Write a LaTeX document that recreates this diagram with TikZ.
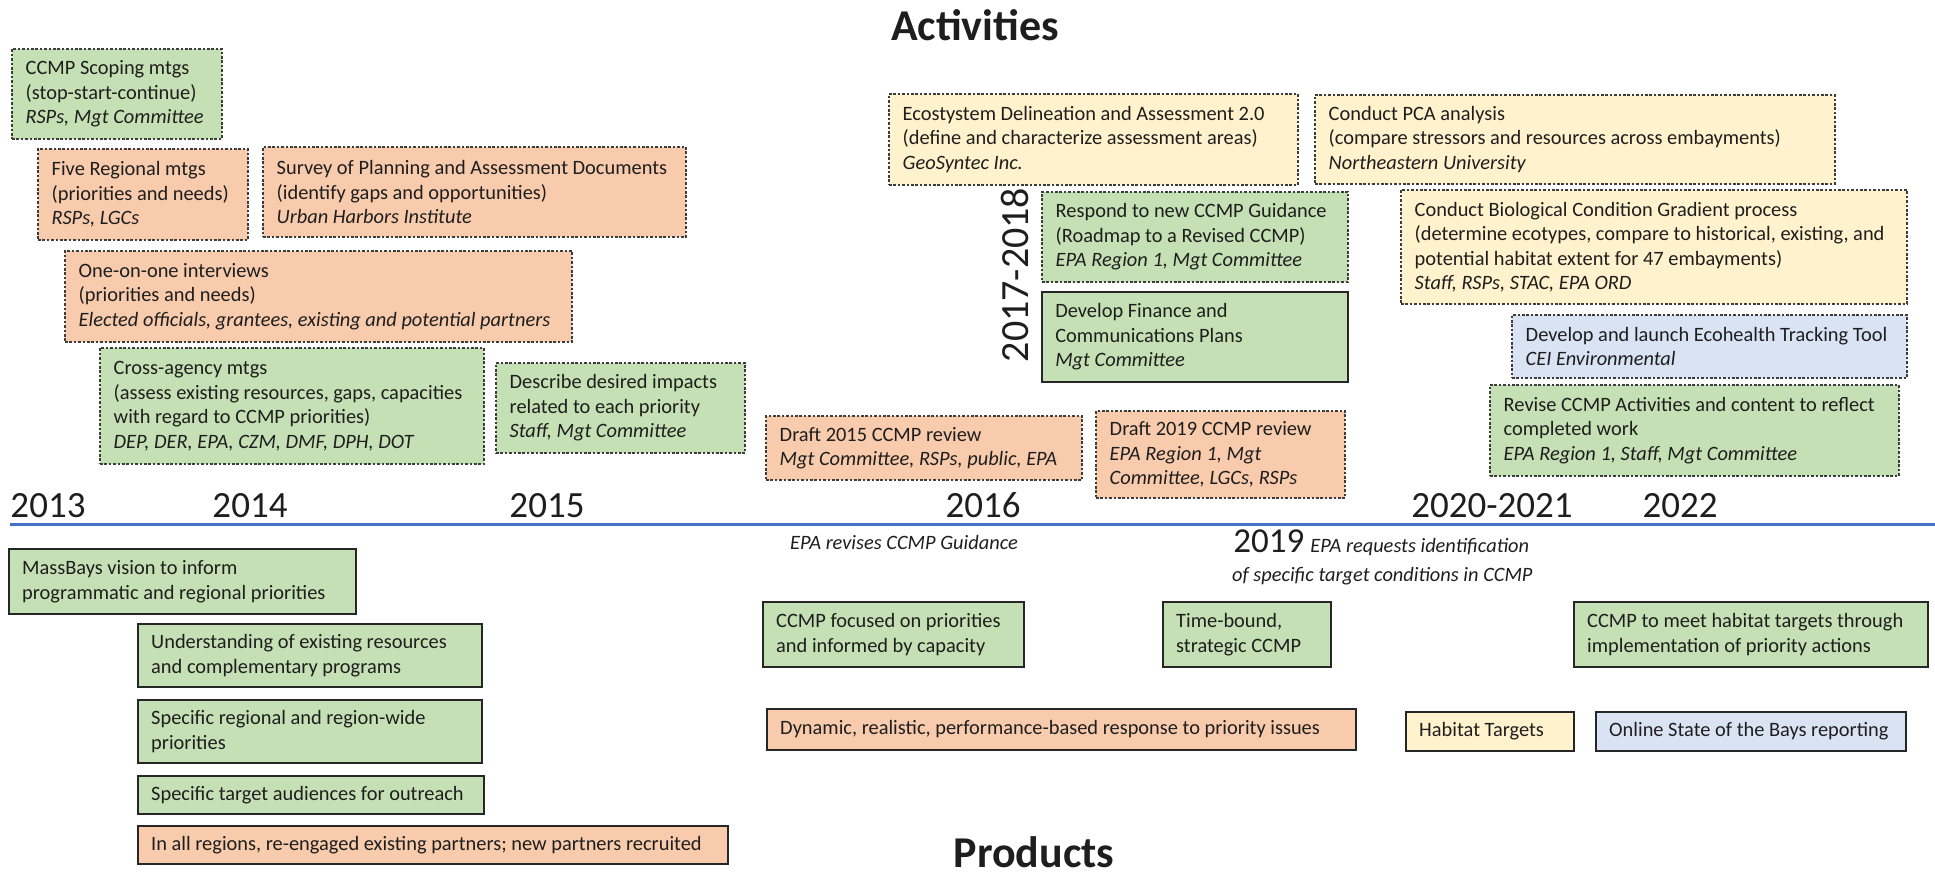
\documentclass[tikz,border=0pt]{standalone}
\usepackage{fontspec}
\setmainfont{Carlito}
\definecolor{ink}{HTML}{1E1E1E}
\definecolor{gfill}{HTML}{C5E0B4}
\definecolor{ofill}{HTML}{F8CBAD}
\definecolor{yfill}{HTML}{FFF2CC}
\definecolor{bfill}{HTML}{DAE3F3}
\definecolor{edge}{HTML}{3C3C3C}
\definecolor{axisblue}{HTML}{4472C4}
\newcommand\boxfont{\fontsize{10.2}{12.25}\selectfont}
\newcommand\yearfont{\fontsize{18.5}{22}\selectfont}
\newcommand\headfont{\fontsize{22}{26}\selectfont\bfseries}
% box given by its corners (x1,y1) (x2,y2) in pixel units,
% with its text set flush left inside it
\newcommand\tlbox[7]{%
  \pgfmathsetmacro\tlw{(#5-#3)*0.5}%
  \pgfmathsetmacro\tlh{(#6-#4)*0.5}%
  \node[#2, minimum width=\tlw pt, minimum height=\tlh pt, inner sep=0pt]
        (#1) at ({(#3+#5)/2},{(#4+#6)/2}) {};
  \node[anchor=west, align=left, inner sep=0pt] (#1-t) at ([xshift=7pt]#1.west) {#7};}
\begin{document}
\begin{tikzpicture}[x=0.5pt,y=-0.5pt,
  every node/.style={text=ink, font=\boxfont},
  act/.style={draw=edge, line width=0.7pt, dash pattern=on 1.3pt off 0.9pt},
  firm/.style={draw=black!85, line width=1.1pt},
  prod/.style={draw=black!85, line width=1.2pt},
  gbox/.style={fill=gfill},
  obox/.style={fill=ofill},
  ybox/.style={fill=yfill},
  bbox/.style={fill=bfill},
  year/.style={font=\yearfont, anchor=base},
  note/.style={font=\boxfont\itshape},
  head/.style={font=\headfont}]
\useasboundingbox (0,0) rectangle (1935,875);

% headings
\node[head] (acth) at (975,25) {Activities};
\node[head] (prodh) at (1034,852) {Products};

% timeline axis
\coordinate (ax0) at (10,524);
\coordinate (ax1) at (1935,524);
\draw[axisblue, line width=1.5pt] (ax0) -- (ax1);

% years
\node[year] (y13) at (48,517) {2013};
\node[year] (y14) at (250,517) {2014};
\node[year] (y15) at (547,517) {2015};
\node[year] (y16) at (983,517) {2016};
\node[year] (y2021) at (1492,517) {2020-2021};
\node[year] (y22) at (1680,517) {2022};
\node[font=\fontsize{20}{24}\selectfont, rotate=90] (y1718) at (1015,275) {2017-2018};

% events below the axis
\node[note] (epa16) at (904,542) {EPA revises CCMP Guidance};
\node[font=\fontsize{17.5}{20}\selectfont, anchor=base west, inner sep=0pt] (y19) at (1233,552) {2019};
\node[note, anchor=base west, inner sep=0pt] (epa19a) at (1310,552) {EPA requests identification};
\node[note, anchor=base east, inner sep=0pt] (epa19b) at (1533,581) {of specific target conditions in CCMP};

% activities
\tlbox{scope}{act,gbox}{12}{49}{222}{139}{CCMP Scoping mtgs\\(stop-start-continue)\\\textit{RSPs, Mgt Committee}}
\tlbox{five}{act,obox}{38}{149}{248}{240}{Five Regional mtgs\\(priorities and needs)\\\textit{RSPs, LGCs}}
\tlbox{survey}{act,obox}{263}{147}{686}{237}{Survey of Planning and Assessment Documents\\(identify gaps and opportunities)\\\textit{Urban Harbors Institute}}
\tlbox{oneone}{act,obox}{65}{251}{572}{342}{One-on-one interviews\\(priorities and needs)\\\textit{Elected officials, grantees, existing and potential partners}}
\tlbox{cross}{act,gbox}{100}{348}{484}{464}{Cross-agency mtgs\\(assess existing resources, gaps, capacities\\with regard to CCMP priorities)\\\textit{DEP, DER, EPA, CZM, DMF, DPH, DOT}}
\tlbox{impacts}{act,gbox}{496}{363}{745}{453}{Describe desired impacts\\related to each priority\\\textit{Staff, Mgt Committee}}
\tlbox{draft15}{act,obox}{766}{416}{1082}{480}{Draft 2015 CCMP review\\\textit{Mgt Committee, RSPs, public, EPA}}
\tlbox{draft19}{act,obox}{1096}{411}{1345}{498}{Draft 2019 CCMP review\\\textit{EPA Region 1, Mgt}\\\textit{Committee, LGCs, RSPs}}
\tlbox{eda}{act,ybox}{889}{94}{1298}{185}{Ecostystem Delineation and Assessment 2.0\\(define and characterize assessment areas)\\\textit{GeoSyntec Inc.}}
\tlbox{respond}{act,gbox}{1042}{192}{1348}{282}{Respond to new CCMP Guidance\\(Roadmap to a Revised CCMP)\\\textit{EPA Region 1, Mgt Committee}}
\tlbox{finance}{firm,gbox}{1042}{292}{1348}{382}{Develop Finance and\\Communications Plans\\\textit{Mgt Committee}}
\tlbox{pca}{act,ybox}{1315}{95}{1835}{184}{Conduct PCA analysis\\(compare stressors and resources across embayments)\\\textit{Northeastern University}}
\tlbox{bcg}{act,ybox}{1401}{190}{1907}{304}{Conduct Biological Condition Gradient process\\(determine ecotypes, compare to historical, existing, and\\potential habitat extent for 47 embayments)\\\textit{Staff, RSPs, STAC, EPA ORD}}
\tlbox{tracker}{act,bbox}{1512}{315}{1907}{378}{Develop and launch Ecohealth Tracking Tool\\\textit{CEI Environmental}}
\tlbox{revise}{act,gbox}{1490}{385}{1899}{476}{Revise CCMP Activities and content to reflect\\completed work\\\textit{EPA Region 1, Staff, Mgt Committee}}

% products
\tlbox{vision}{prod,gbox}{9}{549}{356}{614}{MassBays vision to inform\\programmatic and regional priorities}
\tlbox{resources}{prod,gbox}{138}{624}{482}{687}{Understanding of existing resources\\and complementary programs}
\tlbox{regional}{prod,gbox}{138}{700}{482}{763}{Specific regional and region-wide\\priorities}
\tlbox{audiences}{prod,gbox}{138}{776}{484}{814}{Specific target audiences for outreach}
\tlbox{partners}{prod,obox}{138}{826}{728}{864}{In all regions, re-engaged existing partners; new partners recruited}
\tlbox{focused}{prod,gbox}{763}{602}{1024}{667}{CCMP focused on priorities\\and informed by capacity}
\tlbox{timebound}{prod,gbox}{1163}{602}{1331}{667}{Time-bound,\\strategic CCMP}
\tlbox{meet}{prod,gbox}{1574}{602}{1928}{667}{CCMP to meet habitat targets through\\implementation of priority actions}
\tlbox{dynamic}{prod,obox}{767}{709}{1356}{750}{Dynamic, realistic, performance-based response to priority issues}
\tlbox{habitat}{prod,ybox}{1406}{712}{1574}{751}{Habitat Targets}
\tlbox{online}{prod,bbox}{1596}{712}{1906}{751}{Online State of the Bays reporting}
\end{tikzpicture}
\end{document}
